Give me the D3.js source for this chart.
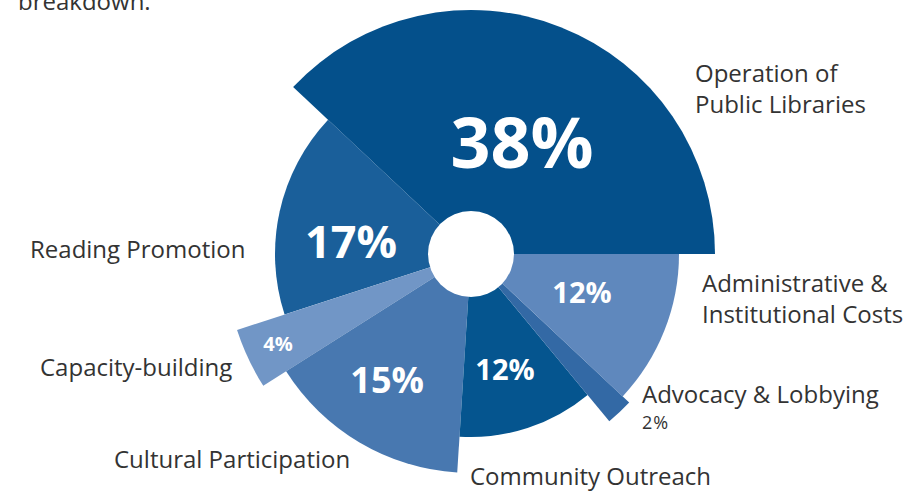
<!DOCTYPE html>
<html>
<head>
<meta charset="utf-8">
<script src="https://cdn.jsdelivr.net/npm/d3@7"></script>
<style>
  html, body { margin: 0; padding: 0; background: #fff; }
  svg { display: block; }
</style>
</head>
<body>
<svg id="chart" width="909" height="491"></svg>
<script>
// ---- data ----
const categories = [
  "Operation of Public Libraries",
  "Reading Promotion",
  "Capacity-building",
  "Cultural Participation",
  "Community Outreach",
  "Advocacy & Lobbying",
  "Administrative & Institutional Costs"
];
const shares = [38, 17, 4, 15, 12, 2, 12];
const shareLabels = ["38%", "17%", "4%", "15%", "12%", "2%", "12%"];

// ---- layout / style ----
const W = 909, H = 491;
const cx = 471, cy = 254;
const holeRadius = 43;
const outerRadius = [244, 196, 246, 219, 183, 217, 208];
const colors = ["#04508b", "#1a5f9a", "#7196c6", "#4878b0", "#05558f", "#3369a5", "#5f88bd"];
// inner label baseline anchor: polar angle (deg, counter-clockwise from 3 o'clock), radius, font size
const innerLabel = [
  {a: 59.3, r: 100, fs: 70},
  {a: 181.9, r: 120, fs: 45},
  {a: 206.7, r: 216, fs: 20},
  {a: 238.9, r: 162.4, fs: 36},
  {a: 285.1, r: 130.5, fs: 29},
  null,
  {a: 336.2, r: 121.3, fs: 29}
];
// outside labels: lines, x, baseline y
const outerLabel = [
  {lines: ["Operation of", "Public Libraries"], x: 695, y: 82, dy: 31},
  {lines: ["Reading Promotion"], x: 30, y: 258},
  {lines: ["Capacity-building"], x: 40, y: 376},
  {lines: ["Cultural Participation"], x: 114, y: 468},
  {lines: ["Community Outreach"], x: 470, y: 485},
  {lines: ["Advocacy & Lobbying"], x: 642, y: 403},
  {lines: ["Administrative &", "Institutional Costs"], x: 702, y: 292, dy: 31}
];

const svg = d3.select("#chart");
const g = svg.append("g").attr("transform", `translate(${cx},${cy})`);

const pie = d3.pie().value(d => d).sort(null)
  .startAngle(Math.PI / 2).endAngle(Math.PI / 2 - 2 * Math.PI);
const arcs = pie(shares);

const arc = d3.arc().innerRadius(0).outerRadius((d, i) => outerRadius[i]);

g.selectAll("path.slice")
  .data(arcs)
  .join("path")
  .attr("class", "slice")
  .attr("d", (d, i) => arc(d, i))
  .attr("fill", (d, i) => colors[i]);

g.append("circle").attr("r", holeRadius).attr("fill", "#fff");

// inner percentage labels
const toXY = (deg, r) => [r * Math.cos(deg * Math.PI / 180), -r * Math.sin(deg * Math.PI / 180)];
g.selectAll("text.pct")
  .data(arcs.filter((d, i) => innerLabel[i]))
  .join("text")
  .attr("class", "pct")
  .attr("x", d => toXY(innerLabel[d.index].a, innerLabel[d.index].r)[0])
  .attr("y", d => toXY(innerLabel[d.index].a, innerLabel[d.index].r)[1])
  .attr("text-anchor", "middle")
  .attr("font-family", "'Open Sans', 'Noto Sans', sans-serif")
  .attr("font-weight", 700)
  .attr("font-size", d => innerLabel[d.index].fs)
  .attr("fill", "#fff")
  .text(d => shareLabels[d.index]);

// outside category labels
const lbl = svg.append("g")
  .attr("font-family", "'Open Sans', 'Noto Sans', sans-serif")
  .attr("font-size", 24)
  .attr("fill", "#333");
outerLabel.forEach((o, i) => {
  const t = lbl.append("text").attr("x", o.x).attr("y", o.y);
  o.lines.forEach((line, j) => {
    t.append("tspan").attr("x", o.x).attr("dy", j === 0 ? 0 : o.dy).text(line);
  });
});
// small value for the thin slice
lbl.append("text").attr("x", 642).attr("y", 429).attr("font-size", 18)
  .attr("letter-spacing", 1)
  .text(shareLabels[5]);

// cut-off intro text at top (cut in the original as well)
lbl.append("text").attr("x", 18).attr("y", 10).text("breakdown.");
</script>
</body>
</html>
